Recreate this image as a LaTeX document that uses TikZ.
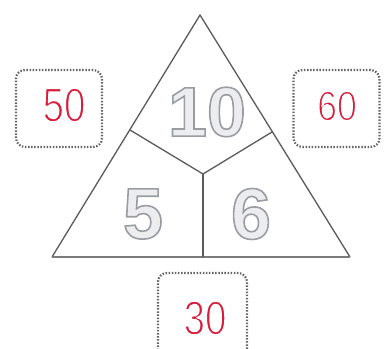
\documentclass[tikz,border=0pt]{standalone}
\usepackage{fontspec}
\setmainfont{Liberation Sans}
\definecolor{inkred}{RGB}{214,30,60}
\definecolor{linegray}{RGB}{90,90,90}
\definecolor{boxgray}{RGB}{100,100,100}
\tikzset{
  edge/.style={draw=linegray, line width=1.3pt, line join=round},
  baseedge/.style={draw=linegray!80, line width=2.6pt},
  stitchbox/.style={draw=boxgray, line width=2.2pt, dash pattern=on 1.5pt off 1.6pt, rounded corners=9pt, inner sep=0pt},
  handnum/.style={text=inkred, font=\fontsize{48}{48}\selectfont, inner sep=0pt},
  bubble/.style={inner sep=0pt, font=\bfseries\fontsize{#1}{#1}\selectfont},
}
\newcommand{\bubbletext}[1]{\special{pdf:literal direct 2 Tr 1.6 w 0.6 0.61 0.63 RG 0.93 0.93 0.94 rg}#1\special{pdf:literal direct 0 Tr 0 0 0 RG 0 0 0 rg}}
\newcommand{\thinink}[1]{\special{pdf:literal direct 2 Tr 1.4 w 1 1 1 RG}#1\special{pdf:literal direct 0 Tr 0 0 0 RG}}
\begin{document}
\begin{tikzpicture}[x=1pt,y=-1pt]
\useasboundingbox (0,0) rectangle (390,348);
% triangle
\coordinate (A) at (200,15);
\coordinate (BL) at (52,257);
\coordinate (BR) at (350,257);
\coordinate (L) at (130,130);
\coordinate (R) at (272,132);
\coordinate (C) at (203,174);
\coordinate (D) at (203,257);
\draw[edge] (BL) -- (A) -- (BR);
\draw[baseedge] (BL) -- (BR);
\draw[edge] (L) -- (C) -- (R);
\draw[edge] (C) -- (D);
% boxes
\node[stitchbox, minimum width=86pt, minimum height=77pt] (b50) at (59,108.5) {};
\node[stitchbox, minimum width=86pt, minimum height=77pt] (b60) at (336.5,108.5) {};
\path[stitchbox] (158,350) -- (158,273) -- (247,273) -- (247,350);
% red numbers
\node[handnum, xscale=0.8] (t50) at (64,105) {\thinink{50}};
\node[handnum, xscale=0.85, font=\fontsize{42}{42}\selectfont] (t60) at (337,106) {\thinink{60}};
\node[handnum, xscale=0.8] (t30) at (205,318) {\thinink{30}};
% bubble numbers
\node[bubble=70] (n10) at (207,112) {\bubbletext{10}};
\node[bubble=72] (n5) at (143,214) {\bubbletext{5}};
\node[bubble=72] (n6) at (251,214) {\bubbletext{6}};
\end{tikzpicture}
\end{document}
